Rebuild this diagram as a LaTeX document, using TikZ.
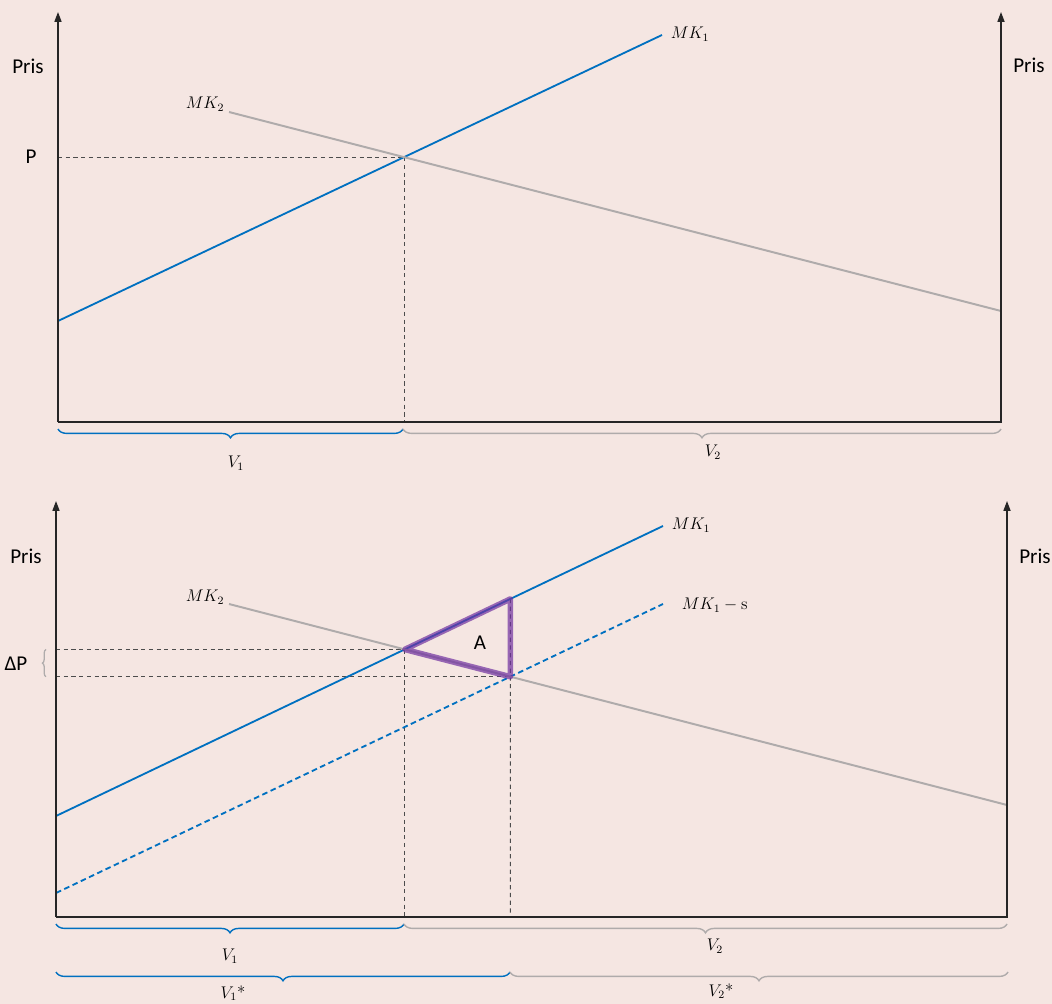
\documentclass[tikz,border=0pt]{standalone}
\usepackage{amsmath}
\usepackage{fontspec}
\usepackage{tikz}
\usetikzlibrary{arrows.meta,decorations.pathreplacing}
\newfontfamily\grafont{Carlito}
\definecolor{bgpink}{RGB}{245,230,226}
\definecolor{mkblue}{RGB}{0,112,192}
\definecolor{mkgrey}{RGB}{175,171,171}
\definecolor{areapurple}{RGB}{112,48,160}
\tikzset{
  axisline/.style={black!85, line width=1pt, -{Triangle[length=7pt,width=5pt]}},
  mkone/.style={mkblue, line width=1.3pt},
  mkones/.style={mkblue, line width=1.3pt, dash pattern=on 4pt off 2.5pt},
  mktwo/.style={mkgrey, line width=1.4pt},
  guide/.style={black!70, line width=0.7pt, dash pattern=on 3pt off 2.5pt},
  bluebrace/.style={mkblue, line width=1pt, decorate, decoration={brace, mirror, amplitude=0.22cm}},
  greybrace/.style={mkgrey, line width=1pt, decorate, decoration={brace, mirror, amplitude=0.22cm}},
  smallbrace/.style={mkgrey, line width=0.9pt, decorate, decoration={brace, mirror, amplitude=0.09cm}},
  area/.style={areapurple, opacity=0.7, line width=4pt, line join=round},
  pris/.style={font=\grafont\fontsize{15}{18}\selectfont},
  mklabel/.style={font=\fontsize{12}{14}\selectfont},
}
\begin{document}
\begin{tikzpicture}[x=0.025cm, y=-0.025cm]
  \useasboundingbox[fill=bgpink] (0,0) rectangle (1052,1004);

  \coordinate (O1) at (58,422);
  \coordinate (Y1) at (58,12);
  \coordinate (X1) at (1001,422);
  \coordinate (R1) at (1001,12);
  \coordinate (a1) at (58,321);
  \coordinate (b1) at (662,35);
  \coordinate (c1) at (229,112);
  \coordinate (d1) at (1001,311);
  \coordinate (E1) at (intersection of a1--b1 and c1--d1);
  \coordinate (br1a) at (58,429);
  \coordinate (br1b) at (403,429);
  \coordinate (br1c) at (1001,429);

  \draw[guide] (E1 -| O1) -- (E1);
  \draw[guide] (E1) -- (E1 |- O1);
  \draw[mkone] (a1) -- (b1);
  \draw[mktwo] (c1) -- (d1);
  \draw[axisline] (O1) -- (Y1);
  \draw[axisline] (O1) -- (X1) -- (R1);
  \draw[bluebrace] (br1a) -- (br1b);
  \draw[greybrace] (br1b) -- (br1c);

  \node[pris] (prisl1) at (28,66) {Pris};
  \node[pris] (prisr1) at (1029,65) {Pris};
  \node[pris] (p1) at (31,157) {P};
  \node[mklabel] (mk1a) at (690,34) {$MK_1$};
  \node[mklabel] (mk2a) at (205,104) {$MK_2$};
  \node[mklabel] (v1a) at (236,463) {$V_1$};
  \node[mklabel] (v2a) at (713,452) {$V_2$};

  \coordinate (O2) at (56,917);
  \coordinate (Y2) at (56,501);
  \coordinate (X2) at (1007,917);
  \coordinate (R2) at (1007,501);
  \coordinate (a2) at (56,816);
  \coordinate (b2) at (663,526);
  \coordinate (s2) at (56,893);
  \coordinate (t2) at (663,604);
  \coordinate (c2) at (229,604);
  \coordinate (d2) at (1007,805);
  \coordinate (E2) at (intersection of a2--b2 and c2--d2);
  \coordinate (F2) at (intersection of s2--t2 and c2--d2);
  \coordinate (Fup) at ([yshift=2cm]F2);
  \coordinate (G2) at (intersection of a2--b2 and F2--Fup);
  \coordinate (dpx) at (46,0);
  \coordinate (br2a) at (56,924);
  \coordinate (br2b) at (404,924);
  \coordinate (br2c) at (1007,924);
  \coordinate (br3a) at (56,972);
  \coordinate (br3b) at (510,972);
  \coordinate (br3c) at (1008,972);

  \draw[guide] (E2 -| O2) -- (E2);
  \draw[guide] (F2 -| O2) -- (F2);
  \draw[guide] (E2) -- (E2 |- O2);
  \draw[guide] (G2) -- (F2 |- O2);
  \draw[mkone] (a2) -- (b2);
  \draw[mkones] (s2) -- (t2);
  \draw[mktwo] (c2) -- (d2);
  \draw[area] (E2) -- (G2) -- (F2) -- cycle;
  \draw[axisline] (O2) -- (Y2);
  \draw[axisline] (O2) -- (X2) -- (R2);
  \draw[smallbrace] (E2 -| dpx) -- (F2 -| dpx);
  \draw[bluebrace] (br2a) -- (br2b);
  \draw[greybrace] (br2b) -- (br2c);
  \draw[bluebrace] (br3a) -- (br3b);
  \draw[greybrace] (br3b) -- (br3c);

  \node[pris] (prisl2) at (26,556) {Pris};
  \node[pris] (prisr2) at (1035,556) {Pris};
  \node[pris] (dp2) at (16,664) {ΔP};
  \node[pris] (area2) at (480,643) {A};
  \node[mklabel] (mk1b) at (691,525) {$MK_1$};
  \node[mklabel, anchor=west] (mk1s) at (677,605) {$MK_1 - \mathrm{s}$};
  \node[mklabel] (mk2b) at (205,597) {$MK_2$};
  \node[mklabel] (v1b) at (230,956) {$V_1$};
  \node[mklabel] (v2b) at (715,946) {$V_2$};
  \node[mklabel] (v1s) at (233,993) {$V_1${\large *}};
  \node[mklabel] (v2s) at (721,991) {$V_2${\large *}};
\end{tikzpicture}
\end{document}
